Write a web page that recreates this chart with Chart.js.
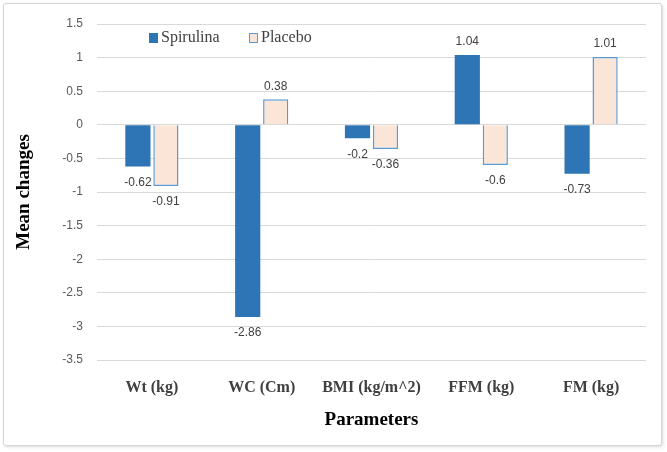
<!DOCTYPE html>
<html>
<head>
<meta charset="utf-8">
<script src="https://cdn.jsdelivr.net/npm/chart.js@4"></script>
<style>
  body { margin: 0; background: #fff; }
  #wrap { position: relative; width: 667px; height: 452px; }
  #frame {
    position: absolute; left: 3px; top: 3px; width: 657px; height: 441px;
    border: 1px solid #d4d4d4; border-radius: 3px;
    box-shadow: 1px 1px 3px rgba(0,0,0,0.15);
  }
  #myChart { position: absolute; left: 0; top: 0; }
</style>
</head>
<body>
<div id="wrap">
  <div id="frame"></div>
  <canvas id="myChart" width="667" height="452"></canvas>
</div>
<script>
let categories = ['Wt (kg)', 'WC (Cm)', 'BMI (kg/m^2)', 'FFM (kg)', 'FM (kg)'];
let spirulina = [-0.62, -2.86, -0.2, 1.04, -0.73];
let placebo = [-0.91, 0.38, -0.36, -0.6, 1.01];

let serif = '"Liberation Serif", "Times New Roman", serif';
let sans = '"Liberation Sans", Arial, sans-serif';

// value labels at the end of each bar
let barLabels = {
  id: 'barLabels',
  afterDatasetsDraw(chart) {
    let ctx = chart.ctx;
    ctx.save();
    ctx.font = '12px ' + sans;
    ctx.fillStyle = '#404040';
    ctx.textAlign = 'center';
    chart.data.datasets.forEach((ds, i) => {
      chart.getDatasetMeta(i).data.forEach((bar, j) => {
        let v = ds.data[j];
        if (v < 0) {
          ctx.textBaseline = 'top';
          ctx.fillText(String(v), bar.x, bar.y + 10);
        } else {
          ctx.textBaseline = 'bottom';
          ctx.fillText(String(v), bar.x, bar.y - 7);
        }
      });
    });
    ctx.restore();
  }
};

// legend drawn inside the plot area
let innerLegend = {
  id: 'innerLegend',
  afterDraw(chart) {
    let ctx = chart.ctx;
    ctx.save();
    ctx.font = '16px ' + serif;
    ctx.textBaseline = 'middle';
    let y = 38;
    ctx.fillStyle = '#2e75b6';
    ctx.fillRect(149, y - 5, 9, 10);
    ctx.fillStyle = '#404040';
    ctx.fillText('Spirulina', 161, y);
    ctx.fillStyle = '#fbe5d6';
    ctx.fillRect(249, y - 5, 9, 10);
    ctx.strokeStyle = '#5b9bd5';
    ctx.lineWidth = 1;
    ctx.strokeRect(249.5, y - 4.5, 8, 9);
    ctx.fillStyle = '#404040';
    ctx.fillText('Placebo', 261, y);
    ctx.restore();
  }
};

let ctx = document.getElementById('myChart').getContext('2d');
let myChart = new Chart(ctx, {
  type: 'bar',
  data: {
    labels: categories,
    datasets: [
      {
        label: 'Spirulina',
        data: spirulina,
        backgroundColor: '#2e75b6',
        borderWidth: 0,
        categoryPercentage: 0.51,
        barPercentage: 0.9,
      },
      {
        label: 'Placebo',
        data: placebo,
        backgroundColor: '#fbe5d6',
        borderColor: '#5b9bd5',
        borderWidth: 1.5,
        categoryPercentage: 0.51,
        barPercentage: 0.9,
      },
    ],
  },
  options: {
    responsive: false,
    animation: false,
    layout: { padding: { left: 8, right: 21, top: 24, bottom: 17 } },
    plugins: {
      legend: { display: false },
      tooltip: { enabled: false },
    },
    scales: {
      x: {
        grid: { display: false },
        border: { display: false },
        ticks: {
          color: '#404040',
          padding: 10,
          font: { family: serif, size: 16, weight: 'bold' },
        },
        title: {
          display: true,
          text: 'Parameters',
          color: '#000',
          padding: { top: 4, bottom: 4 },
          font: { family: serif, size: 19, weight: 'bold' },
        },
        afterFit(scale) { scale.height = 75; },
      },
      y: {
        min: -3.5,
        max: 1.5,
        ticks: {
          stepSize: 0.5,
          color: '#595959',
          padding: 14,
          font: { family: sans, size: 12 },
          callback: (v) => String(Math.round(v * 10) / 10),
        },
        grid: { color: '#d9d9d9', drawTicks: false },
        border: { display: false },
        title: {
          display: true,
          text: 'Mean changes',
          color: '#000',
          padding: { top: 5, bottom: 0 },
          font: { family: serif, size: 19, weight: 'bold' },
        },
        afterFit(scale) { scale.width = 89; },
      },
    },
  },
  plugins: [barLabels, innerLegend],
});
</script>
</body>
</html>
